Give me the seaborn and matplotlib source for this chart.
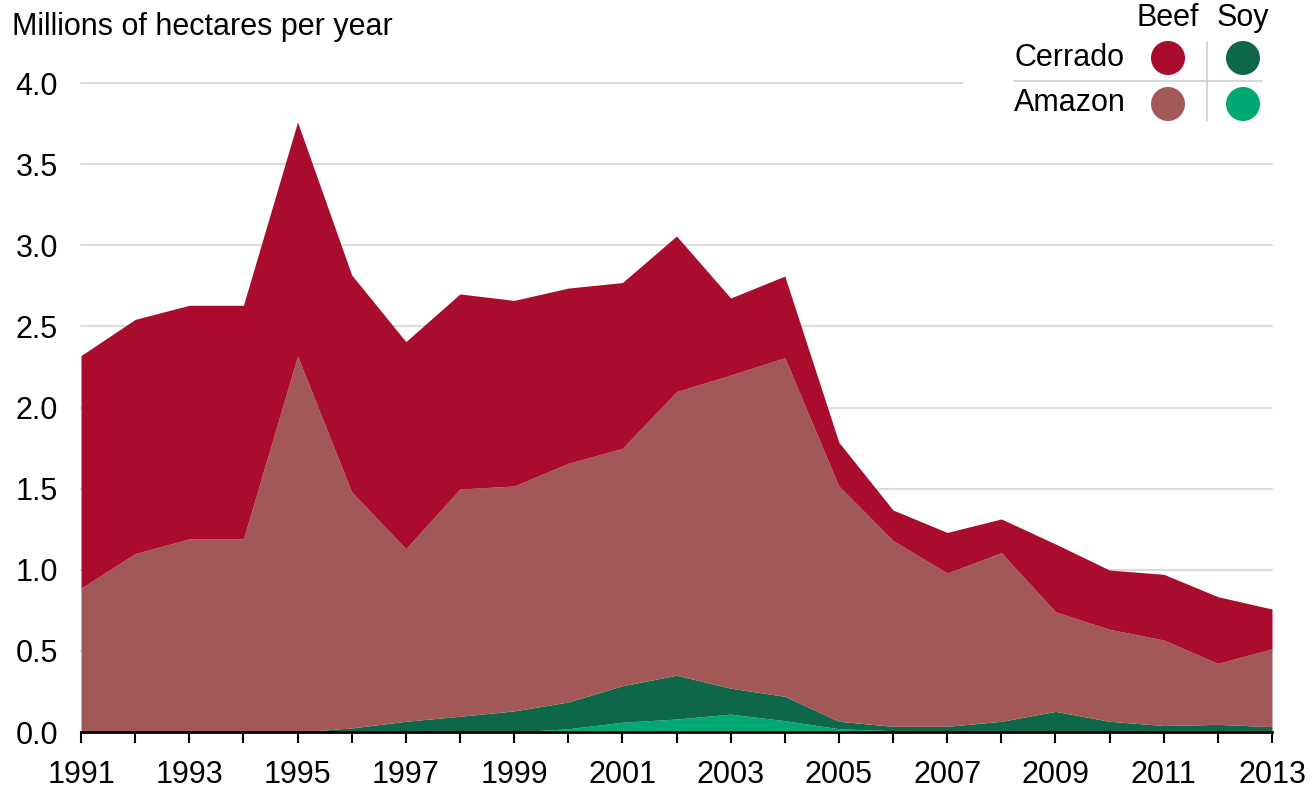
import numpy as np
import seaborn as sns
import matplotlib.pyplot as plt

# Desmatamento por ano (milhões de hectares)
years = list(range(1991, 2014))
amazon_soy = [0, 0, 0, 0, 0, 0, 0, 0, 0, 0.02, 0.06, 0.08, 0.11, 0.07, 0.02, 0.008,
              0, 0, 0, 0, 0, 0, 0]
cerrado_soy = [0, 0, 0, 0, 0, 0.025, 0.066, 0.097, 0.13, 0.165, 0.225, 0.27, 0.16, 0.15,
               0.046, 0.027, 0.035, 0.066, 0.127, 0.066, 0.04, 0.047, 0.033]
amazon_beef = [0.886, 1.10, 1.19, 1.19, 2.317, 1.455, 1.064, 1.401, 1.386, 1.471, 1.463,
               1.748, 1.93, 2.087, 1.449, 1.145, 0.945, 1.039, 0.614, 0.567, 0.527, 0.376, 0.48]
cerrado_beef = [1.434, 1.443, 1.44, 1.44, 1.443, 1.337, 1.276, 1.202, 1.144, 1.08, 1.022,
                0.959, 0.475, 0.503, 0.27, 0.188, 0.25, 0.208, 0.418, 0.365, 0.405, 0.411, 0.245]
y_ticks = [0.0, 0.5, 1.0, 1.5, 2.0, 2.5, 3.0, 3.5, 4.0]

colors = {
    'cerrado_beef': '#a90c2c',
    'amazon_beef': '#a35858',
    'cerrado_soy': '#0e6748',
    'amazon_soy': '#00a874',
}

sns.set_theme(style='white')
plt.rcParams['font.family'] = ['Liberation Sans', 'DejaVu Sans']
plt.rcParams['text.color'] = 'black'
plt.rcParams['xtick.color'] = 'black'
plt.rcParams['ytick.color'] = 'black'
FS = 22

fig = plt.figure(figsize=(13.12, 7.89), dpi=100)
ax = fig.add_axes([81 / 1312, 1 - 732 / 789, (1272 - 81) / 1312, (732 - 83) / 789])

# linhas de grade (a de 4.0 para antes da legenda)
for v in y_ticks[1:]:
    xmax = 0.74 if v == 4.0 else 1.0
    ax.axhline(v, xmin=0, xmax=xmax, color='#dcdcdc', lw=1.5, zorder=0, clip_on=False)

ax.stackplot(years, amazon_soy, cerrado_soy, amazon_beef, cerrado_beef,
             colors=[colors['amazon_soy'], colors['cerrado_soy'],
                     colors['amazon_beef'], colors['cerrado_beef']],
             lw=0, zorder=2)

ax.set_xlim(1991, 2013)
ax.set_ylim(0, 4.0)
ax.set_xticks(years)
ax.set_xticklabels([str(y) if (y - 1991) % 2 == 0 else '' for y in years], fontsize=FS)
ax.set_yticks(y_ticks)
ax.set_yticklabels([f'{v:.1f}' for v in y_ticks], fontsize=FS)
ax.tick_params(axis='x', direction='out', length=8, width=1.5, color='black', pad=12)
ax.tick_params(axis='y', length=0, pad=16.5)
ax.xaxis.set_ticks_position('bottom')
for s in ['top', 'right', 'left']:
    ax.spines[s].set_visible(False)
ax.spines['bottom'].set_color('black')
ax.spines['bottom'].set_linewidth(2)
ax.spines['bottom'].set_zorder(5)
ax.patch.set_alpha(0)

# camada de anotação em pixels
ov = fig.add_axes([0, 0, 1, 1])
ov.set_xlim(0, 1312)
ov.set_ylim(789, 0)
ov.axis('off')
ov.patch.set_alpha(0)

ov.text(12, 27, 'Millions of hectares per year', fontsize=FS, va='center', ha='left')

ov.text(1168, 18, 'Beef', fontsize=FS, ha='center', va='center')
ov.text(1243, 18, 'Soy', fontsize=FS, ha='center', va='center')
ov.text(1014, 58, 'Cerrado', fontsize=FS, ha='left', va='center')
ov.text(1014, 103, 'Amazon', fontsize=FS, ha='left', va='center')
ov.plot([1014, 1262], [81, 81], color='#d0d0d0', lw=1.2)
ov.plot([1207, 1207], [42, 121], color='#d0d0d0', lw=1.2)
ov.scatter([1168, 1243, 1168, 1243], [58, 58, 104, 104], s=24.5 ** 2,
           c=[colors['cerrado_beef'], colors['cerrado_soy'],
              colors['amazon_beef'], colors['amazon_soy']], lw=0)

plt.savefig('out.png', dpi=100)
plt.close()
